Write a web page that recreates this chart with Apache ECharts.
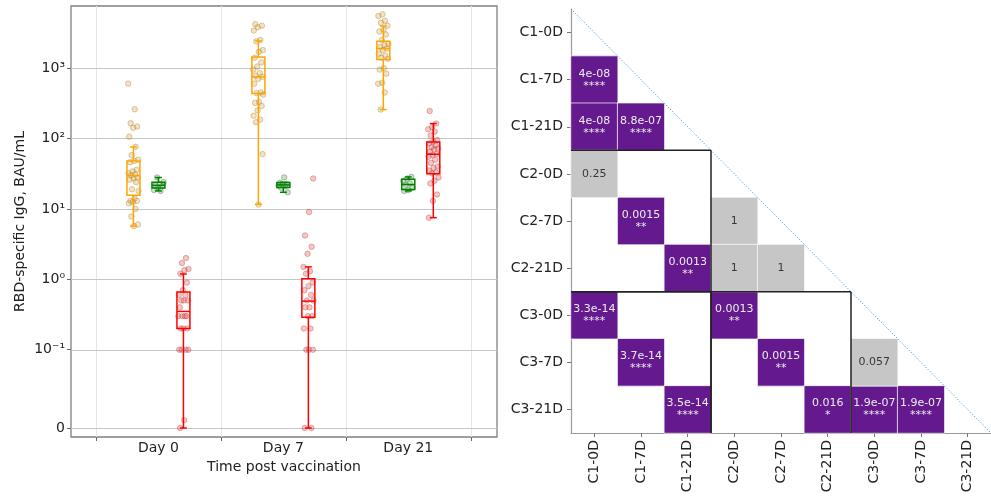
<!DOCTYPE html>
<html>
<head>
<meta charset="utf-8">
<script src="https://cdn.jsdelivr.net/npm/echarts@6/dist/echarts.min.js"></script>
<style>html,body{margin:0;padding:0;background:#fff}#c{width:991px;height:498px}</style>
</head>
<body>
<div id="c"></div>
<script>
// ---------- data: left panel ----------
const days = ['Day 0', 'Day 7', 'Day 21'];
const cohorts = ['C1', 'C2', 'C3'];
const yTickValues = [0, 0.1, 1, 10, 100, 1000];
const yTickLabels = ['0', '10\u207B\u00B9', '10\u2070', '10\u00B9', '10\u00B2', '10\u00B3'];

const c1Day0 = [600, 260, 165, 148, 142, 106, 76, 58, 50, 48, 46, 36, 34, 32, 31, 30, 28, 27, 26, 24, 19, 18, 14, 13, 13, 12.5, 12, 10, 7.8, 6, 5.7];
const c1Day7 = [4200, 4000, 3800, 3400, 2500, 2400, 1800, 1700, 1400, 1200, 1050, 950, 850, 780, 750, 700, 600, 450, 440, 420, 330, 320, 290, 250, 210, 185, 170, 60, 11.5];
const c1Day21 = [5800, 5500, 4700, 4400, 4000, 3500, 3300, 3000, 2500, 2200, 2100, 2000, 1900, 1800, 1600, 1500, 1400, 1350, 1000, 950, 830, 620, 600, 450, 257];
const c2Day0 = [28, 24, 22.5, 21.5, 21, 20, 18.5, 18];
const c2Day7 = [28, 23.5, 22.5, 22, 21.5, 21, 20, 17.2];
const c2Day21 = [28.5, 27, 25, 23, 22, 20, 18.5, 18];
const c3Day0 = [2.0, 1.7, 1.4, 1.35, 1.2, 0.9, 0.7, 0.6, 0.6, 0.5, 0.5, 0.5, 0.4, 0.3, 0.3, 0.3, 0.3, 0.2, 0.2, 0.2, 0.1, 0.1, 0.1, 0.1, 0.01, 0];
const c3Day7 = [27, 9, 4.2, 2.9, 2.3, 1.5, 1.3, 1.2, 0.9, 0.8, 0.7, 0.6, 0.5, 0.5, 0.4, 0.4, 0.3, 0.3, 0.2, 0.2, 0.1, 0.1, 0.1, 0, 0];
const c3Day21 = [246, 163, 145, 135, 125, 110, 95, 90, 85, 80, 75, 72, 70, 65, 60, 58, 55, 50, 45, 40, 38, 35, 33, 32, 28, 25, 23, 16, 13, 7.5];

// box stats per day: [lowWhisker, q1, median, q3, highWhisker]
const c1Box = [[5.7, 15.6, 29.7, 47.9, 75.7], [11.6, 434, 748, 1438, 2427], [257, 1318, 1890, 2400, 3960]];
const c2Box = [[18, 19.8, 21.6, 23.9, 27.9], [17.2, 20.1, 21.9, 23.6, 23.8], [18, 18.8, 22.2, 26.3, 28.4]];
const c3Box = [[0, 0.2, 0.35, 0.66, 1.19], [0, 0.29, 0.49, 1.02, 1.5], [7.5, 31.6, 59.7, 89, 163]];

// ---------- data: right panel ----------
const groupLabels = ['C1-0D', 'C1-7D', 'C1-21D', 'C2-0D', 'C2-7D', 'C2-21D', 'C3-0D', 'C3-7D', 'C3-21D'];
const pairRows = ['C1-7D', 'C1-21D', 'C1-21D', 'C2-0D', 'C2-7D', 'C2-7D', 'C2-21D', 'C2-21D', 'C2-21D', 'C3-0D', 'C3-0D', 'C3-7D', 'C3-7D', 'C3-7D', 'C3-21D', 'C3-21D', 'C3-21D', 'C3-21D'];
const pairCols = ['C1-0D', 'C1-0D', 'C1-7D', 'C1-0D', 'C1-7D', 'C2-0D', 'C1-21D', 'C2-0D', 'C2-7D', 'C1-0D', 'C2-0D', 'C1-7D', 'C2-7D', 'C3-0D', 'C1-21D', 'C2-21D', 'C3-0D', 'C3-7D'];
const pTexts = ['4e-08', '4e-08', '8.8e-07', '0.25', '0.0015', '1', '0.0013', '1', '1', '3.3e-14', '0.0013', '3.7e-14', '0.0015', '0.057', '3.5e-14', '0.016', '1.9e-07', '1.9e-07'];

// ---------- helpers ----------
const FONT = 'DejaVu Sans';
const FS = 14;
const LINTHRESH = 0.1, LINSCALE = 1 / (1 - 1 / 10);
function symlog(v) {
  return v <= LINTHRESH ? (v / LINTHRESH) * LINSCALE : LINSCALE + Math.log10(v / LINTHRESH);
}
const yTickT = yTickValues.map(symlog);
const ALPHA = 0.05;
function stars(p) {
  if (p < 1e-4) return '****';
  if (p < 1e-3) return '***';
  if (p < 1e-2) return '**';
  if (p < ALPHA) return '*';
  return '';
}

const groupOffset = [-0.2, 0, 0.2];
const BOX_W = 0.104, CAP_W = 0.055, JITTER = 0.085;
const lineColors = ['#FFA500', '#008000', '#FF0000'];
const ptFill = ['rgba(214,160,60,0.38)', 'rgba(70,150,70,0.38)', 'rgba(220,70,70,0.38)'];
const ptEdge = ['rgba(170,120,30,0.55)', 'rgba(40,110,40,0.55)', 'rgba(180,40,40,0.5)'];

const pointsByGroup = [[c1Day0, c1Day7, c1Day21], [c2Day0, c2Day7, c2Day21], [c3Day0, c3Day7, c3Day21]];
const boxesByGroup = [c1Box, c2Box, c3Box];

const series = [];

// gridlines (left panel) via markLine
const xMin = -0.7, xMax = 2.71, yMin = -0.128, yMax = 5.992;
const vGrid = [-0.5, 0.5, 1.5, 2.5];
series.push({
  type: 'line', xAxisIndex: 0, yAxisIndex: 0, data: [], z: 1, silent: true, showSymbol: false,
  markLine: {
    silent: true, symbol: ['none', 'none'], z: 1, animation: false,
    label: { show: false },
    data: vGrid.map(x => ({ xAxis: x, lineStyle: { color: '#e6e6e6', width: 1, type: 'solid' } }))
      .concat(yTickT.map(y => ({ yAxis: y, lineStyle: { color: '#c6c6c6', width: 1, type: 'solid' } })))
  }
});

// strip points
for (let g = 0; g < 3; g++) {
  const pts = [];
  pointsByGroup[g].forEach((arr, d) => {
    arr.forEach((v, i) => {
      const j = (((i * 0.6180339) + g * 0.37 + d * 0.21) % 1 - 0.5) * JITTER;
      pts.push([d + groupOffset[g] + j, symlog(v)]);
    });
  });
  series.push({
    type: 'scatter', xAxisIndex: 0, yAxisIndex: 0, symbolSize: 5.5, z: 3, silent: true,
    itemStyle: { color: ptFill[g], borderColor: ptEdge[g], borderWidth: 0.8 },
    data: pts
  });
}

// box plots
for (let g = 0; g < 3; g++) {
  const color = lineColors[g];
  series.push({
    type: 'custom', xAxisIndex: 0, yAxisIndex: 0, z: 4, silent: true,
    encode: { x: 0, y: [1, 2, 3, 4, 5] },
    data: boxesByGroup[g].map((s, d) => [d + groupOffset[g]].concat(s.map(symlog))),
    renderItem: function (params, api) {
      const x = api.value(0);
      const lo = api.coord([x, api.value(1)]);
      const q1 = api.coord([x, api.value(2)]);
      const md = api.coord([x, api.value(3)]);
      const q3 = api.coord([x, api.value(4)]);
      const hi = api.coord([x, api.value(5)]);
      const hw = api.size([BOX_W, 0])[0] / 2;
      const cw = api.size([CAP_W, 0])[0] / 2;
      const px = lo[0];
      const mk = () => ({ stroke: color, lineWidth: 1.5, fill: null });
      return {
        type: 'group',
        children: [
          { type: 'line', shape: { x1: px, y1: q1[1], x2: px, y2: lo[1] }, style: mk() },
          { type: 'line', shape: { x1: px, y1: q3[1], x2: px, y2: hi[1] }, style: mk() },
          { type: 'line', shape: { x1: px - cw, y1: lo[1], x2: px + cw, y2: lo[1] }, style: mk() },
          { type: 'line', shape: { x1: px - cw, y1: hi[1], x2: px + cw, y2: hi[1] }, style: mk() },
          { type: 'rect', shape: { x: px - hw, y: q3[1], width: 2 * hw, height: q1[1] - q3[1] }, style: mk() },
          { type: 'line', shape: { x1: px - hw, y1: md[1], x2: px + hw, y2: md[1] }, style: mk() }
        ]
      };
    }
  });
}

// heatmap: significant (purple) and non-significant (grey) cells
const cells = pTexts.map((t, i) => [groupLabels.indexOf(pairCols[i]), groupLabels.indexOf(pairRows[i]), parseFloat(t), i]);
const cellLabel = function (textColor) {
  return {
    show: true, fontFamily: FONT,
    formatter: function (p) {
      const t = pTexts[p.value[3]];
      const s = stars(parseFloat(t));
      return s ? '{a|' + t + '}\n{a|' + s + '}' : '{a|' + t + '}';
    },
    rich: { a: { color: textColor, fontSize: 11, lineHeight: 12, fontFamily: FONT } }
  };
};
series.push({
  type: 'heatmap', xAxisIndex: 1, yAxisIndex: 1, silent: true, z: 2,
  itemStyle: { color: '#64198f', borderColor: 'rgba(255,255,255,0.7)', borderWidth: 1 },
  data: cells.filter(c => c[2] < ALPHA),
  label: cellLabel('#ececec')
});
series.push({
  type: 'heatmap', xAxisIndex: 1, yAxisIndex: 1, silent: true, z: 2,
  itemStyle: { color: '#c6c6c6', borderColor: 'rgba(255,255,255,0.7)', borderWidth: 1 },
  data: cells.filter(c => c[2] >= ALPHA),
  label: cellLabel('#383838')
});

// diagonal and block outlines (right panel)
const nG = groupLabels.length, blk = cohorts.length;
series.push({
  type: 'lines', coordinateSystem: 'cartesian2d', xAxisIndex: 2, yAxisIndex: 2, polyline: true, silent: true, z: 5,
  lineStyle: { color: '#4a98dc', width: 1, type: [1.2, 1.8], opacity: 1 },
  data: [{ coords: [[0, 0], [nG, nG]] }]
});
const edges = [];
for (let a = 0; a < cohorts.length; a++) {
  for (let b = a + 1; b < cohorts.length; b++) {
    const x0 = a * blk, x1 = x0 + blk, y0 = b * blk, y1 = y0 + blk;
    edges.push({ coords: [[x0, y0], [x1, y0]] });
    edges.push({ coords: [[x1, y0], [x1, y1]] });
    if (y1 < nG) edges.push({ coords: [[x1, y1], [x0, y1]] });
    if (x0 > 0) edges.push({ coords: [[x0, y1], [x0, y0]] });
  }
}
series.push({
  type: 'lines', coordinateSystem: 'cartesian2d', xAxisIndex: 2, yAxisIndex: 2, polyline: true, silent: true, z: 6,
  lineStyle: { color: '#222222', width: 1.5, opacity: 1 },
  data: edges
});

const option = {
  animation: false,
  textStyle: { fontFamily: FONT },
  grid: [
    { left: 71, top: 6, width: 426, height: 431, show: true, borderColor: '#808080', borderWidth: 1.3, backgroundColor: 'rgba(0,0,0,0)' },
    { left: 571, top: 9, width: 425, height: 424 }
  ],
  xAxis: [
    {
      type: 'value', gridIndex: 0, min: xMin, max: xMax, position: 'bottom',
      name: 'Time post vaccination', nameLocation: 'middle', nameGap: 21,
      nameTextStyle: { fontSize: FS, color: '#222', fontFamily: FONT },
      axisLine: { show: false, onZero: false }, splitLine: { show: false },
      axisTick: { show: true, customValues: vGrid, length: 4, lineStyle: { color: '#666' } },
      axisLabel: { customValues: [0, 1, 2], formatter: v => days[Math.round(v)], fontSize: FS, color: '#222', margin: 4, fontFamily: FONT }
    },
    {
      type: 'category', gridIndex: 1, data: groupLabels,
      axisLine: { show: true, onZero: false, lineStyle: { color: '#9a9a9a', width: 1.2 } },
      axisTick: { show: true, alignWithLabel: true, length: 4, lineStyle: { color: '#777' } },
      axisLabel: { rotate: 90, fontSize: FS, color: '#222', margin: 7, fontFamily: FONT },
      splitLine: { show: false }
    },
    { type: 'value', gridIndex: 1, min: 0, max: nG, show: false }
  ],
  yAxis: [
    {
      type: 'value', gridIndex: 0, min: yMin, max: yMax, position: 'left',
      name: 'RBD-specific IgG, BAU/mL', nameLocation: 'middle', nameGap: 44,
      nameTextStyle: { fontSize: FS, color: '#222', fontFamily: FONT },
      axisLine: { show: false, onZero: false }, splitLine: { show: false },
      axisTick: { show: true, customValues: yTickT, length: 4, lineStyle: { color: '#666' } },
      axisLabel: {
        customValues: yTickT, fontSize: FS, color: '#222', margin: 6, fontFamily: FONT,
        formatter: function (v) {
          let best = 0;
          yTickT.forEach((t, i) => { if (Math.abs(t - v) < Math.abs(yTickT[best] - v)) best = i; });
          return yTickLabels[best];
        }
      }
    },
    {
      type: 'category', gridIndex: 1, data: groupLabels, inverse: true,
      axisLine: { show: true, onZero: false, lineStyle: { color: '#9a9a9a', width: 1.2 } },
      axisTick: { show: true, alignWithLabel: true, length: 4, lineStyle: { color: '#777' } },
      axisLabel: { fontSize: FS, color: '#222', margin: 8, fontFamily: FONT },
      splitLine: { show: false }
    },
    { type: 'value', gridIndex: 1, min: 0, max: nG, inverse: true, show: false }
  ],
  series: series
};

const chart = echarts.init(document.getElementById('c'), null, { renderer: 'canvas' });
chart.setOption(option);
</script>
</body>
</html>
